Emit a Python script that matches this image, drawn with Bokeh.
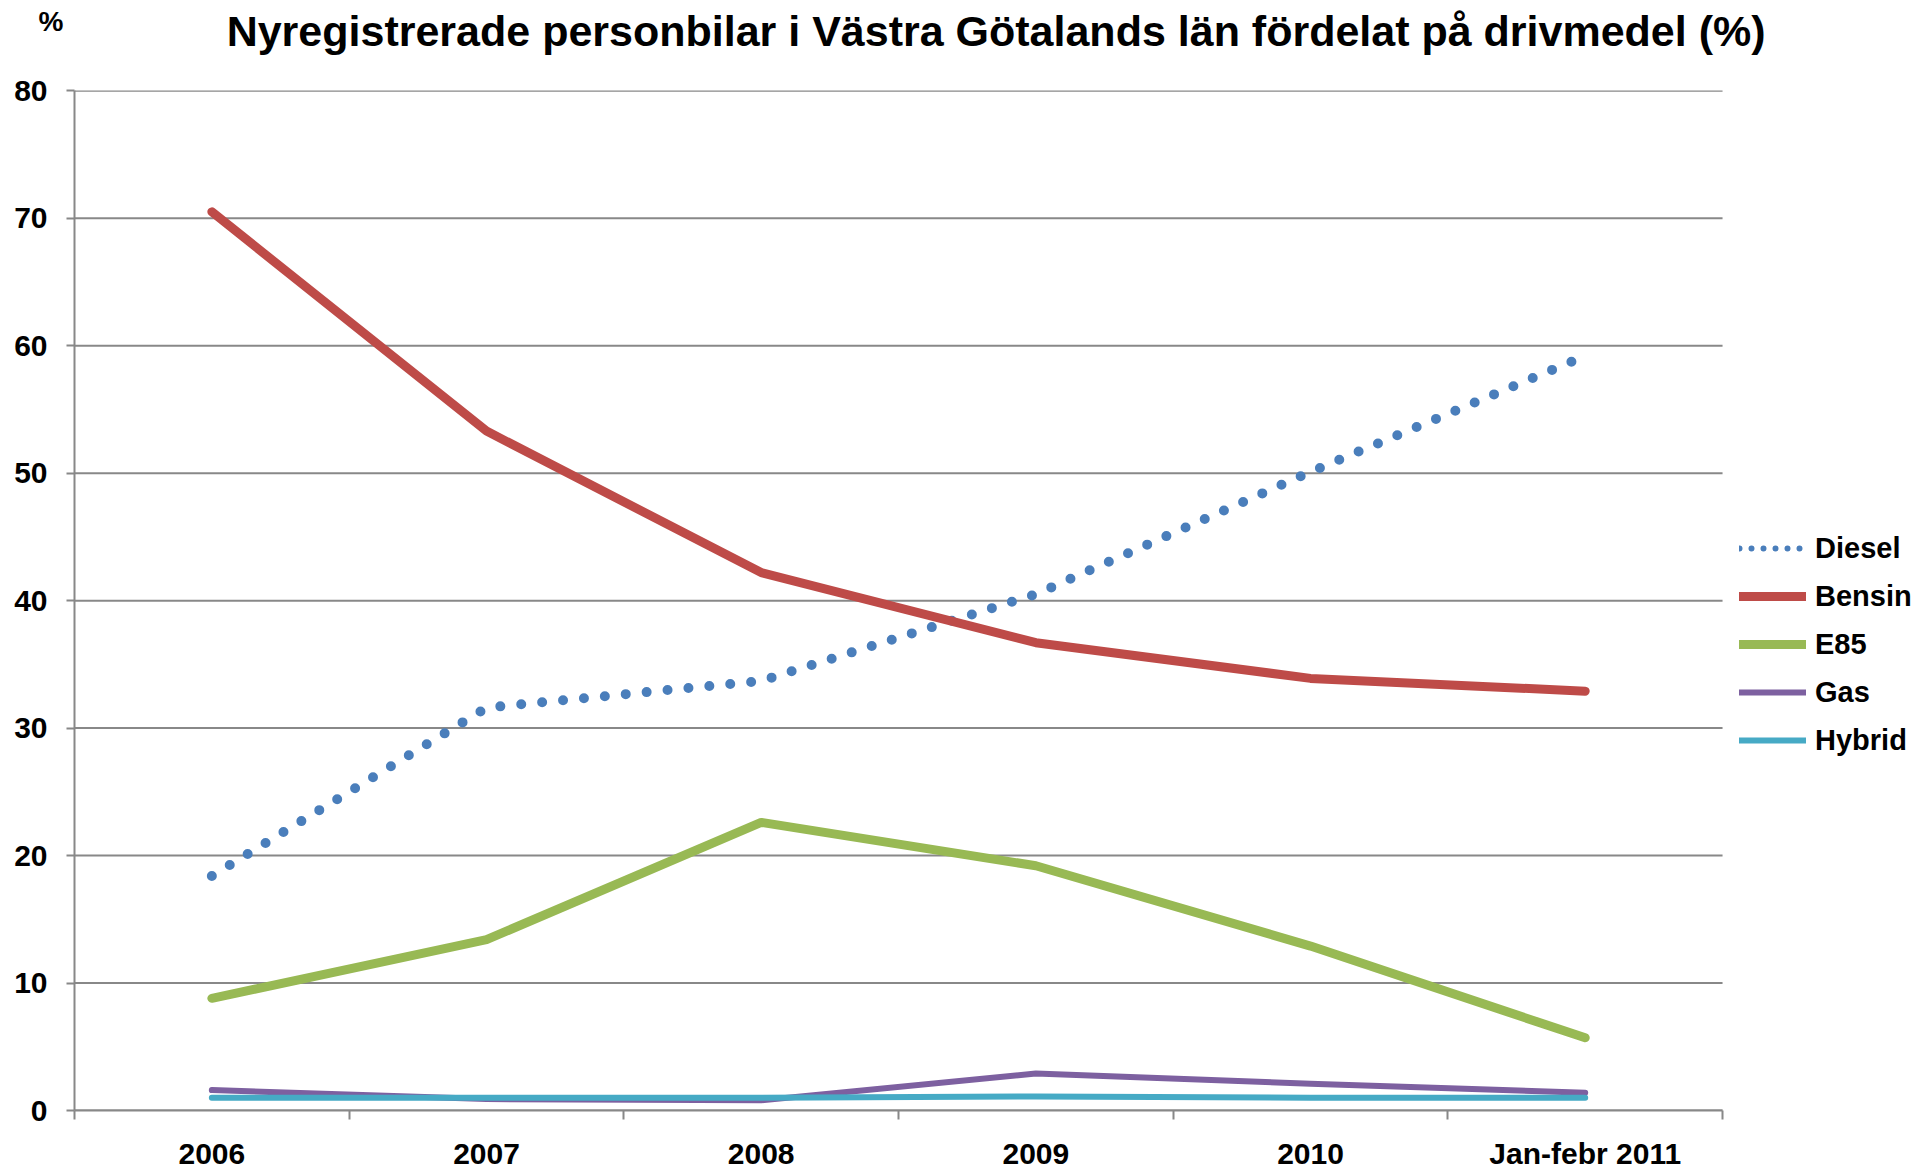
from bokeh.plotting import figure
from bokeh.models import (Range1d, FixedTicker, Legend, LegendItem, Title, LinearAxis,
                          ColumnDataSource, CDSView, IndexFilter)
from bokeh.embed import file_html
from bokeh.resources import INLINE

categories = ["2006", "2007", "2008", "2009", "2010", "Jan-febr 2011"]
diesel = [18.4, 31.6, 33.7, 40.5, 50.1, 59.2]
bensin = [70.5, 53.3, 42.2, 36.7, 33.9, 32.9]
e85 = [8.8, 13.4, 22.6, 19.2, 12.9, 5.7]
gas = [1.6, 0.9, 0.8, 2.9, 2.1, 1.4]
hybrid = [1.0, 1.0, 1.0, 1.1, 1.0, 1.0]
y_ticks = [0, 10, 20, 30, 40, 50, 60, 70, 80]
title_text = "Nyregistrerade personbilar i Västra Götalands  län fördelat på drivmedel (%)"

FONT = "Liberation Sans"
GRID = "#888888"
N = len(categories)
xs = [i + 0.5 for i in range(N)]

# frame extends to the right so the legend can sit inside it
p = figure(width=1932, height=1173, output_backend="svg", toolbar_location=None,
           x_range=Range1d(0, 6.728), y_range=Range1d(0, 80.02),
           min_border_left=74, min_border_right=10, min_border_top=90, min_border_bottom=63,
           title=None, title_location=None)
p.outline_line_color = None
p.background_fill_color = "white"
p.border_fill_color = "white"

# x axis (categories)
p.xaxis.bounds = (0, N)
p.xaxis.ticker = FixedTicker(ticks=xs, minor_ticks=list(range(N + 1)))
p.xaxis.major_label_overrides = {x: c for x, c in zip(xs, categories)}
p.xaxis.major_tick_out = 0
p.xaxis.major_tick_in = 0
p.xaxis.minor_tick_out = 9
p.xaxis.minor_tick_in = 0
p.xaxis.minor_tick_line_color = GRID
p.xaxis.minor_tick_line_width = 2
p.xaxis.major_label_standoff = 17

p.yaxis.ticker = FixedTicker(ticks=y_ticks)
p.yaxis.major_tick_out = 8
p.yaxis.major_tick_in = 0
p.yaxis.minor_tick_out = 0
p.yaxis.minor_tick_in = 0
p.yaxis.major_label_standoff = 19

for ax in (p.xaxis, p.yaxis):
    ax.axis_line_color = GRID
    ax.axis_line_width = 2
    ax.major_tick_line_color = GRID
    ax.major_tick_line_width = 2
    ax.major_label_text_font = FONT
    ax.major_label_text_font_style = "bold"
    ax.major_label_text_font_size = "30px"
    ax.major_label_text_color = "black"

p.xgrid.visible = False
p.ygrid.visible = False
# horizontal gridlines limited to the category span
p.segment(x0=[0] * len(y_ticks), x1=[N] * len(y_ticks), y0=y_ticks, y1=y_ticks,
          line_color=GRID, line_width=2)

# series drawn in Excel order: later series on top
diesel_src = ColumnDataSource(data=dict(x=xs, y=diesel))
r_diesel = p.line("x", "y", source=diesel_src, line_color="#4a7ebb", line_width=10,
                  line_cap="round", line_dash="0 21")
r_bensin = p.line(xs, bensin, line_color="#be4b48", line_width=9, line_cap="round", line_join="round")
r_e85 = p.line(xs, e85, line_color="#98b954", line_width=9, line_cap="round", line_join="round")
r_gas = p.line(xs, gas, line_color="#7d60a0", line_width=6, line_cap="round", line_join="round")
r_hybrid = p.line(xs, hybrid, line_color="#46aac5", line_width=6, line_cap="round", line_join="round")
# legend sample for the dotted series (finer dots, as in the reference legend)
r_diesel_key = p.line("x", "y", source=diesel_src, view=CDSView(filter=IndexFilter([0])),
                      line_color="#4a7ebb", line_width=6, line_cap="round", line_dash="0 12")

legend = Legend(items=[
    LegendItem(label="Diesel", renderers=[r_diesel_key]),
    LegendItem(label="Bensin", renderers=[r_bensin]),
    LegendItem(label="E85", renderers=[r_e85]),
    LegendItem(label="Gas", renderers=[r_gas]),
    LegendItem(label="Hybrid", renderers=[r_hybrid]),
], location=(1665, 350))
legend.border_line_color = None
legend.background_fill_alpha = 0
legend.padding = 0
legend.margin = 0
legend.spacing = 8
legend.glyph_height = 40
legend.label_height = 40
legend.glyph_width = 67
legend.label_standoff = 9
legend.label_text_font = FONT
legend.label_text_font_style = "bold"
legend.label_text_font_size = "29px"
legend.label_text_color = "black"
p.add_layout(legend, "center")

# chart title as a single tick label on an axis above the frame
title_x = 3.377
title_axis = LinearAxis(ticker=FixedTicker(ticks=[title_x], minor_ticks=[]),
                        major_label_overrides={title_x: title_text})
title_axis.axis_line_color = None
title_axis.major_tick_line_color = None
title_axis.major_tick_out = 0
title_axis.major_tick_in = 0
title_axis.minor_tick_out = 0
title_axis.major_label_standoff = 36
title_axis.major_label_text_font = FONT
title_axis.major_label_text_font_style = "bold"
title_axis.major_label_text_font_size = "43px"
title_axis.major_label_text_color = "black"
p.add_layout(title_axis, "above")

pct_title = Title(text="%", text_font=FONT, text_font_style="bold", text_font_size="28px",
                  text_color="black", align="left", offset=-36, standoff=-66)
p.add_layout(pct_title, "above")

open("out.html", "w").write(file_html(p, INLINE))
